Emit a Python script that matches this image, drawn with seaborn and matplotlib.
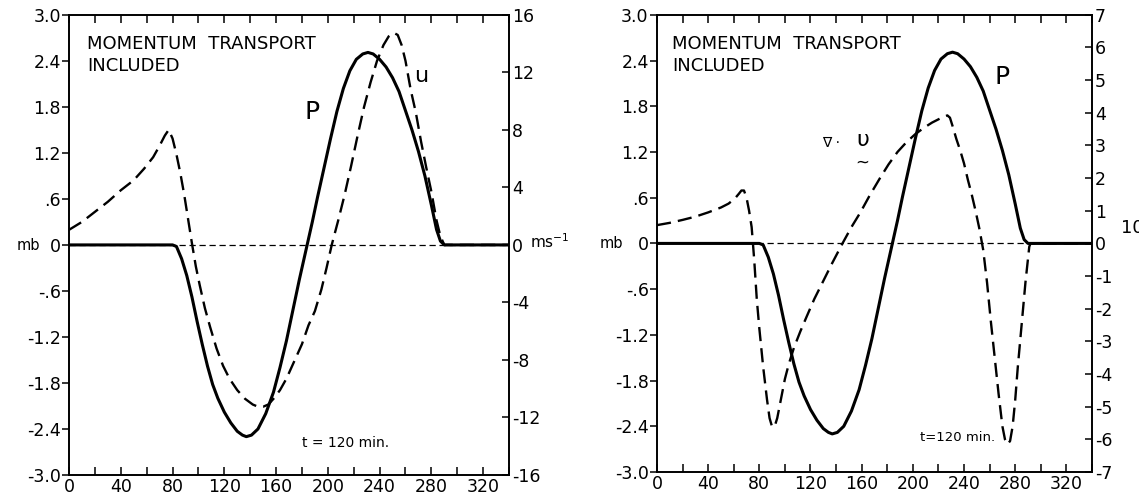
import matplotlib
matplotlib.use("Agg")
import matplotlib.pyplot as plt
import seaborn as sns
from matplotlib.ticker import FixedLocator, FixedFormatter, MultipleLocator

# ---------------- data ----------------
# pressure perturbation P (mb), same in both panels
t_p = [0, 80, 83, 87, 91, 95, 99, 103, 107, 111, 115, 120, 125, 130, 134, 137, 141,
       146, 152, 158, 163, 168, 173, 178, 184, 188, 192, 197, 202, 207, 212, 217, 222,
       227, 231, 235, 240, 245, 250, 255, 260, 265, 270, 275, 280, 284, 287, 290, 340]
p_mb = [0, 0, -0.02, -0.18, -0.40, -0.68, -1.00, -1.30, -1.58, -1.82, -2.00, -2.18, -2.32,
        -2.43, -2.48, -2.50, -2.48, -2.40, -2.20, -1.92, -1.60, -1.25, -0.85, -0.45, 0.0,
        0.30, 0.62, 1.00, 1.38, 1.74, 2.04, 2.27, 2.42, 2.49, 2.51, 2.49, 2.42, 2.32, 2.18,
        2.00, 1.75, 1.50, 1.22, 0.90, 0.52, 0.20, 0.05, 0.0, 0.0]

# left panel: u (m s-1)
t_u = [0, 10, 20, 30, 40, 50, 58, 65, 70, 74, 77, 80, 83, 86, 89, 92, 95, 98, 101, 105,
       109, 114, 119, 124, 130, 136, 142, 146, 150, 154, 158, 163, 168, 174, 180, 185, 190,
       195, 199, 203, 208, 213, 218, 223, 228, 233, 238, 243, 247, 251, 254, 257, 260, 264,
       268, 272, 276, 280, 284, 287, 290, 340]
u_ms = [1.05, 1.6, 2.3, 3.0, 3.8, 4.5, 5.3, 6.1, 6.9, 7.6, 8.0, 7.4, 6.3, 5.0, 3.5, 1.8,
        0.1, -1.5, -2.8, -4.4, -5.7, -7.2, -8.4, -9.3, -10.1, -10.7, -11.1, -11.25, -11.25,
        -11.1, -10.7, -10.1, -9.3, -8.1, -6.9, -5.6, -4.6, -3.1, -1.6, 0.0, 1.7, 3.5, 5.5,
        7.6, 9.6, 11.3, 12.8, 13.9, 14.5, 14.75, 14.6, 13.9, 12.8, 10.8, 9.2, 7.2, 5.4, 3.7,
        1.7, 0.6, 0.0, 0.0]

# right panel: divergence of v (right-axis units)
t_div = [0, 10, 20, 30, 40, 50, 56, 61, 64, 66, 68, 70, 72, 74, 76, 78, 80, 83, 86, 88,
         90, 92, 94, 97, 100, 103, 107, 112, 117, 123, 130, 137, 145, 152, 159, 166, 174,
         181, 188, 195, 202, 209, 215, 220, 224, 227, 229, 231, 234, 237, 240, 243, 246,
         249, 252, 255, 258, 261, 264, 267, 270, 272, 274, 276, 278, 280, 282, 285, 288,
         291, 292, 340]
div_v = [0.56, 0.63, 0.72, 0.82, 0.95, 1.10, 1.22, 1.38, 1.52, 1.62, 1.62, 1.40, 1.00,
         0.50, -0.50, -1.70, -2.60, -3.78, -4.78, -5.35, -5.62, -5.60, -5.35, -4.75, -4.15,
         -3.70, -3.20, -2.70, -2.24, -1.70, -1.15, -0.60, 0.0, 0.50, 0.95, 1.45, 1.98, 2.42,
         2.80, 3.10, 3.35, 3.55, 3.70, 3.80, 3.88, 3.92, 3.85, 3.60, 3.20, 2.85, 2.45, 1.95,
         1.50, 1.00, 0.45, -0.20, -1.20, -2.40, -3.50, -4.60, -5.60, -6.00, -6.15, -6.05,
         -5.60, -4.80, -3.80, -2.50, -1.20, -0.10, 0.0, 0.0]

x_ticks = [0, 40, 80, 120, 160, 200, 240, 280, 320]
x_labels = ["0", "40", "80", "120", "160", "200", "240", "280", "320"]
mb_ticks = [-3.0, -2.4, -1.8, -1.2, -0.6, 0.0, 0.6, 1.2, 1.8, 2.4, 3.0]
mb_labels = ["-3.0", "-2.4", "-1.8", "-1.2", "-.6", "0", ".6", "1.2", "1.8", "2.4", "3.0"]
u_ticks = [-16, -12, -8, -4, 0, 4, 8, 12, 16]
u_labels = ["-16", "-12", "-8", "-4", "0", "4", "8", "12", "16"]
div_ticks = [-7, -6, -5, -4, -3, -2, -1, 0, 1, 2, 3, 4, 5, 6, 7]
div_labels = ["-7", "-6", "-5", "-4", "-3", "-2", "-1", "0", "1", "2", "3", "4", "5", "6", "7"]

# ---------------- style ----------------
sns.set_style("ticks")
plt.rcParams['font.family'] = ['DejaVu Sans']
plt.rcParams['axes.linewidth'] = 1.2
plt.rcParams['text.color'] = 'black'
plt.rcParams['xtick.color'] = 'black'
plt.rcParams['ytick.color'] = 'black'
plt.rcParams['axes.edgecolor'] = 'black'

fig = plt.figure(figsize=(11.39, 4.98), dpi=100)
ax1 = fig.add_axes([0.0606, 0.0462, 0.3863, 0.924])
ax2 = fig.add_axes([0.5768, 0.0522, 0.3819, 0.918])

SOLID_LW = 2.2
DASH_LW = 1.7
DASH = (0, (6, 3))


def setup_main(ax):
    ax.set_xlim(0, 340)
    ax.set_ylim(-3.0, 3.0)
    ax.xaxis.set_major_locator(FixedLocator(x_ticks))
    ax.xaxis.set_major_formatter(FixedFormatter(x_labels))
    ax.xaxis.set_minor_locator(MultipleLocator(20))
    ax.yaxis.set_major_locator(FixedLocator(mb_ticks))
    ax.yaxis.set_major_formatter(FixedFormatter(mb_labels))
    ax.tick_params(axis='x', which='both', direction='in', top=True, bottom=True,
                   length=6, width=1.1, labelsize=12.5, pad=2, colors='black')
    ax.tick_params(axis='y', which='both', direction='out', length=5, width=1.1,
                   labelsize=12.5, pad=1, colors='black')
    ax.set_xlabel("")
    ax.set_ylabel("")
    for s in ax.spines.values():
        s.set_visible(True)
        s.set_color('black')
    ax.axhline(0, color='black', lw=0.9, ls=(0, (5, 3)), zorder=1)


def setup_twin(tw, lo, hi, ticks, labels):
    tw.set_ylim(lo, hi)
    tw.yaxis.set_major_locator(FixedLocator(ticks))
    tw.yaxis.set_major_formatter(FixedFormatter(labels))
    tw.tick_params(axis='y', which='both', direction='in', length=5, width=1.1,
                   labelsize=12.5, pad=2, colors='black', right=True, left=False)
    tw.set_ylabel("")
    tw.set_xlabel("")


# ---------------- left panel ----------------
setup_main(ax1)
sns.lineplot(x=t_p, y=p_mb, ax=ax1, color='black', lw=SOLID_LW, zorder=3,
             solid_joinstyle='round', solid_capstyle='round')
tw1 = ax1.twinx()
sns.lineplot(x=t_u, y=u_ms, ax=tw1, color='black', lw=DASH_LW, linestyle=DASH, zorder=3,
             dash_joinstyle='round')
setup_twin(tw1, -16, 16, u_ticks, u_labels)
ax1.set_xlim(0, 340)

ax1.text(14, 2.74, "MOMENTUM  TRANSPORT\nINCLUDED", ha='left', va='top', fontsize=13,
         linespacing=1.3)
ax1.text(188, 1.73, "P", ha='center', va='center', fontsize=18)
ax1.text(272.5, 2.2, "u", ha='center', va='center', fontsize=16)
ax1.text(180, -2.58, "t = 120 min.", ha='left', va='center', fontsize=10)
fig.text(28 / 1139, 1 - 245 / 498, "mb", ha='center', va='center', fontsize=10.5)
fig.text(530 / 1139, 1 - 242 / 498, r"ms$^{-1}$", ha='left', va='center', fontsize=11)

# ---------------- right panel ----------------
setup_main(ax2)
sns.lineplot(x=t_p, y=p_mb, ax=ax2, color='black', lw=SOLID_LW, zorder=3,
             solid_joinstyle='round', solid_capstyle='round')
tw2 = ax2.twinx()
sns.lineplot(x=t_div, y=div_v, ax=tw2, color='black', lw=DASH_LW, linestyle=DASH, zorder=3,
             dash_joinstyle='round')
setup_twin(tw2, -7, 7, div_ticks, div_labels)
ax2.set_xlim(0, 340)

ax2.text(11.8, 2.74, "MOMENTUM  TRANSPORT\nINCLUDED", ha='left', va='top', fontsize=13,
         linespacing=1.3)
ax2.text(269.5, 2.19, "P", ha='center', va='center', fontsize=18)
ax2.text(136, 1.32, "∇ ·", ha='center', va='center', fontsize=10)
ax2.text(160.5, 1.36, "υ", ha='center', va='center', fontsize=16)
ax2.text(160.5, 1.06, "~", ha='center', va='center', fontsize=12)
ax2.text(205.6, -2.55, "t=120 min.", ha='left', va='center', fontsize=9.5)
fig.text(611 / 1139, 1 - 243 / 498, "mb", ha='center', va='center', fontsize=10.5)
fig.text(1121 / 1139, 1 - 228 / 498, "10", ha='left', va='center', fontsize=13)

fig.savefig("out.png", dpi=100)
